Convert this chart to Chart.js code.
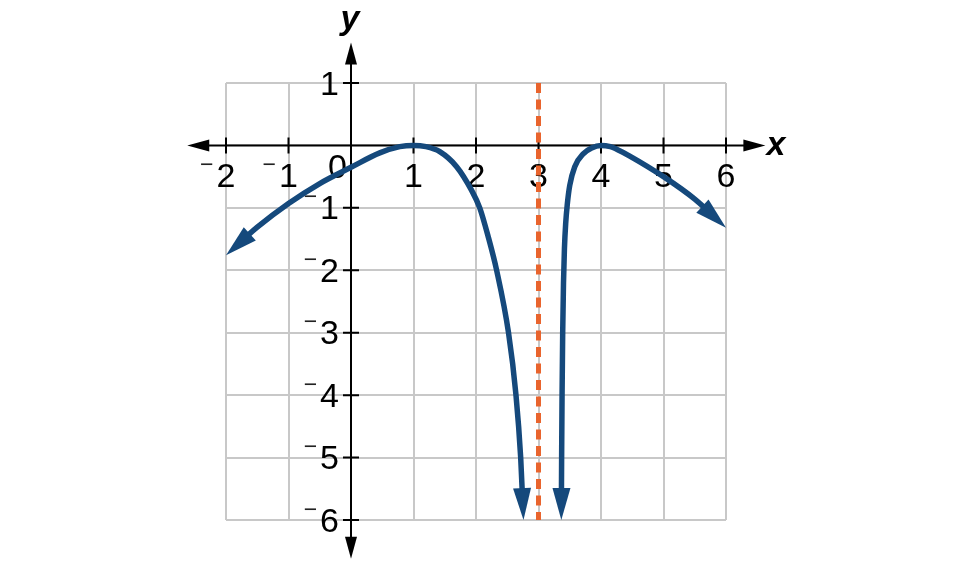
<!DOCTYPE html>
<html>
<head>
<meta charset="utf-8">
<script src="https://cdn.jsdelivr.net/npm/chart.js@4.4.1/dist/chart.umd.min.js"></script>
<style>
html,body{margin:0;padding:0;background:#ffffff;overflow:hidden}
canvas{display:block}
</style>
</head>
<body>
<canvas id="c" width="976" height="568"></canvas>
<script>
// ---- data ----
const leftBranchX = [-2, -1.5, -1, -0.5, 0, 0.46, 0.78, 1, 1.2, 1.42, 1.69, 1.93, 2.06, 2.2, 2.33, 2.52, 2.64, 2.715, 2.76];
const leftBranchY = [-1.76, -1.31, -0.93, -0.61, -0.35, -0.12, -0.02, 0, -0.02, -0.10, -0.34, -0.72, -1.0, -1.48, -2.0, -3.0, -4.0, -5.0, -6.0];
const rightBranchX = [3.365, 3.37, 3.377, 3.387, 3.40, 3.415, 3.435, 3.46, 3.50, 3.58, 3.72, 3.85, 4, 4.15, 4.25, 4.46, 5, 5.5, 6];
const rightBranchY = [-6, -5, -4, -3, -2.2, -1.65, -1.25, -0.95, -0.64, -0.34, -0.13, -0.04, 0, -0.02, -0.06, -0.17, -0.50, -0.86, -1.32];
const asymptoteX = [3, 3];
const asymptoteY = [1, -6];
const xTickValues = [-2, -1, 1, 2, 3, 4, 5, 6];
const yTickValues = [1, -1, -2, -3, -4, -5, -6];
const originLabel = '0';
const xAxisTitle = 'x';
const yAxisTitle = 'y';

const BLUE = '#15497c';
const ORANGE = '#e9642d';
const GRID = '#c8c8c8';
const FONT = '"Liberation Sans", Arial, sans-serif';

function pts(xs, ys) { return xs.map((v, i) => ({ x: v, y: ys[i] })); }

function arrowHead(ctx, tx, ty, ux, uy, len, half) {
  const bx = tx - ux * len, by = ty - uy * len;
  const nx = -uy, ny = ux;
  ctx.beginPath();
  ctx.moveTo(tx, ty);
  ctx.lineTo(bx + nx * half, by + ny * half);
  ctx.lineTo(bx - nx * half, by - ny * half);
  ctx.closePath();
  ctx.fill();
}

function drawNumber(ctx, v, cx, baseline, align) {
  const txt = String(Math.abs(v));
  ctx.font = '34px ' + FONT;
  ctx.textBaseline = 'alphabetic';
  ctx.textAlign = align;
  ctx.fillStyle = '#000';
  ctx.fillText(txt, cx, baseline);
  if (v < 0) {
    const w = ctx.measureText(txt).width;
    const left = align === 'center' ? cx - w / 2 : cx - w;
    ctx.font = '23px ' + FONT;
    ctx.textAlign = 'right';
    ctx.fillStyle = '#222';
    ctx.fillText('\u2212', left - 3, baseline - 15);
  }
}

const axesPlugin = {
  id: 'axesPlugin',
  beforeDatasetsDraw(chart) {
    const { ctx, scales: { x, y } } = chart;
    const px = v => x.getPixelForValue(v), py = v => y.getPixelForValue(v);
    const x0 = px(0), y0 = py(0);
    const xl = px(-2.62), xr = px(6.63), yt = py(1.65), yb = py(-6.62);
    ctx.save();
    ctx.strokeStyle = '#000';
    ctx.fillStyle = '#000';
    ctx.lineWidth = 2;
    ctx.beginPath();
    ctx.moveTo(xl + 10, y0); ctx.lineTo(xr - 10, y0);
    ctx.moveTo(x0, yt + 10); ctx.lineTo(x0, yb - 10);
    xTickValues.forEach(v => { const p = px(v); ctx.moveTo(p, y0 - 8); ctx.lineTo(p, y0 + 8); });
    yTickValues.forEach(v => { const p = py(v); ctx.moveTo(x0 - 8, p); ctx.lineTo(x0 + 8, p); });
    ctx.stroke();
    arrowHead(ctx, xl, y0, -1, 0, 22, 6);
    arrowHead(ctx, xr, y0, 1, 0, 22, 6);
    arrowHead(ctx, x0, yt, 0, -1, 22, 6);
    arrowHead(ctx, x0, yb, 0, 1, 22, 6);
    // tick labels
    xTickValues.forEach(v => drawNumber(ctx, v, px(v), y0 + 42, 'center'));
    yTickValues.forEach(v => drawNumber(ctx, v, x0 - 12, py(v) + 11.5, 'right'));
    ctx.font = '34px ' + FONT;
    ctx.textAlign = 'center';
    ctx.fillStyle = '#000';
    ctx.fillText(originLabel, x0 - 13.5, y0 + 33);
    // axis titles
    ctx.font = 'italic bold 34px ' + FONT;
    ctx.textAlign = 'center';
    ctx.fillText(yAxisTitle, x0 - 1, yt - 13);
    ctx.textAlign = 'left';
    ctx.fillText(xAxisTitle, xr + 1, y0 + 10);
    ctx.restore();
  }
};

function endInfo(meta) {
  const d = meta.data;
  const res = [];
  [[0, 1], [d.length - 1, d.length - 2]].forEach(([i, j]) => {
    const p = d[i], q = d[j];
    let cx, cy;
    if (i === 0) { cx = p.cp2x; cy = p.cp2y; } else { cx = p.cp1x; cy = p.cp1y; }
    if (cx === undefined || (Math.abs(cx - p.x) < 0.5 && Math.abs(cy - p.y) < 0.5)) { cx = q.x; cy = q.y; }
    let ux = p.x - cx, uy = p.y - cy;
    const L = Math.hypot(ux, uy) || 1;
    res.push({ x: p.x, y: p.y, ux: ux / L, uy: uy / L });
  });
  return res;
}

// both ends of each branch carry an arrowhead
const curveArrows = {
  id: 'curveArrows',
  beforeDatasetDraw(chart, args) {
    if (args.index > 1) return;
    const meta = chart.getDatasetMeta(args.index);
    const ctx = chart.ctx;
    ctx.save();
    ctx.beginPath();
    ctx.rect(0, 0, chart.width, chart.height);
    endInfo(meta).forEach(e => {
      ctx.moveTo(e.x + 18, e.y);
      ctx.arc(e.x, e.y, 18, 0, Math.PI * 2, true);
    });
    ctx.clip('evenodd');
  },
  afterDatasetDraw(chart, args) {
    if (args.index > 1) return;
    const ctx = chart.ctx;
    ctx.restore();
    const meta = chart.getDatasetMeta(args.index);
    ctx.save();
    ctx.fillStyle = BLUE;
    endInfo(meta).forEach(e => arrowHead(ctx, e.x, e.y, e.ux, e.uy, 32, 9));
    ctx.restore();
  }
};

new Chart(document.getElementById('c'), {
  type: 'scatter',
  data: {
    datasets: [
      { data: pts(leftBranchX, leftBranchY), showLine: true, borderColor: BLUE, borderWidth: 5.5, pointRadius: 0, cubicInterpolationMode: 'monotone', fill: false, clip: false, borderCapStyle: 'round', borderJoinStyle: 'round' },
      { data: pts(rightBranchX, rightBranchY), showLine: true, borderColor: BLUE, borderWidth: 5.5, pointRadius: 0, cubicInterpolationMode: 'monotone', fill: false, clip: false, borderCapStyle: 'round', borderJoinStyle: 'round' },
      { data: pts(asymptoteX, asymptoteY), showLine: true, borderColor: ORANGE, borderWidth: 5, borderDash: [10, 6.5], pointRadius: 0, fill: false, clip: false }
    ]
  },
  options: {
    responsive: false,
    animation: false,
    events: [],
    layout: { padding: { left: 226, right: 250, top: 83, bottom: 48 } },
    plugins: { legend: { display: false }, tooltip: { enabled: false } },
    scales: {
      x: { type: 'linear', min: -2, max: 6, ticks: { display: false, stepSize: 1 }, grid: { color: GRID, lineWidth: 2, drawTicks: false }, border: { display: false } },
      y: { type: 'linear', min: -6, max: 1, ticks: { display: false, stepSize: 1 }, grid: { color: GRID, lineWidth: 2, drawTicks: false }, border: { display: false } }
    }
  },
  plugins: [axesPlugin, curveArrows]
});
</script>
</body>
</html>
